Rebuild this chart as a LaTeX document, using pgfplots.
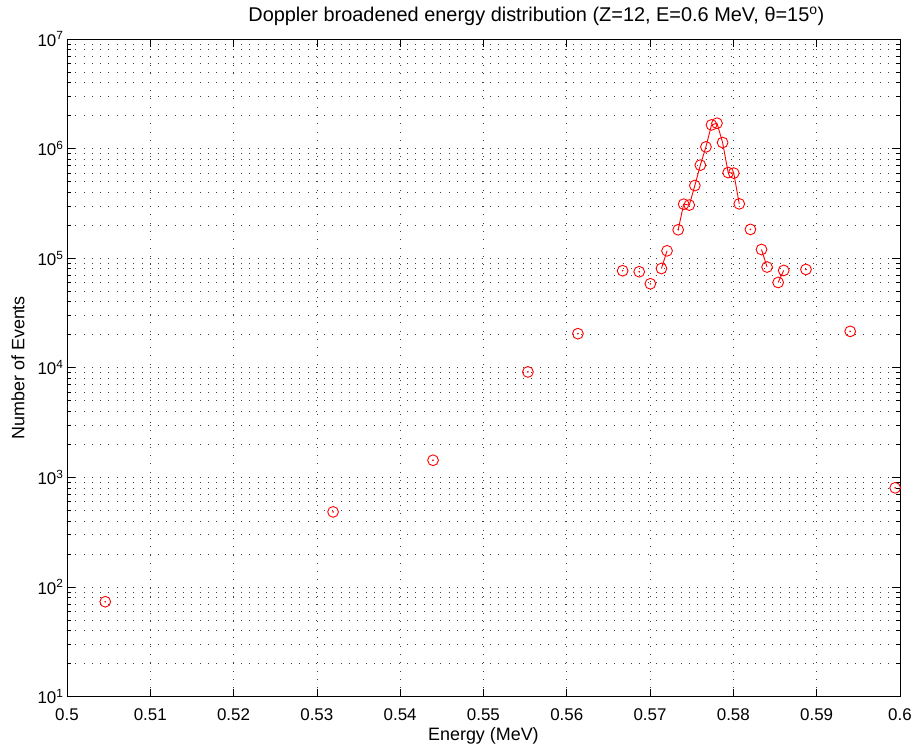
\documentclass[border=0pt]{standalone}
\usepackage{pgfplots}
\pgfplotsset{compat=1.18}
\usepackage{fontspec}
\setmainfont{Liberation Sans}
\begin{document}
\begin{tikzpicture}
\begin{axis}[
  scale only axis, width=833.5bp, height=658bp,
  xmin=0.5, xmax=0.6, ymode=log, ymin=10, ymax=1e7,
  xtick={0.5,0.51,0.52,0.53,0.54,0.55,0.56,0.57,0.58,0.59,0.6},
  xticklabels={0.5,0.51,0.52,0.53,0.54,0.55,0.56,0.57,0.58,0.59,0.6},
  ytick={1e1,1e2,1e3,1e4,1e5,1e6,1e7},
  yticklabels={10\textsuperscript{1},10\textsuperscript{2},10\textsuperscript{3},10\textsuperscript{4},10\textsuperscript{5},10\textsuperscript{6},10\textsuperscript{7}},
  tick align=inside, tick pos=both,
  major tick length=8bp, minor tick length=4bp,
  tick style={black, line width=0.6bp},
  axis line style={black, line width=0.8bp},
  grid=both,
  major grid style={black!75, line width=0.6bp, dash pattern=on 1bp off 7.3bp},
  minor grid style={black!75, line width=0.6bp, dash pattern=on 1bp off 7.3bp},
  ticklabel style={font=\fontsize{17}{20}\selectfont},
  xticklabel style={anchor=base, yshift=-24bp},
  label style={font=\fontsize{18}{21}\selectfont},
  xlabel={Energy (MeV)},
  xlabel style={at={(axis description cs:0.5,0)}, anchor=base, yshift=-44bp},
  ylabel={Number of Events},
  ylabel style={at={(axis description cs:-0.0588,0.5)}, anchor=center},
  title={Doppler broadened energy distribution (Z=12, E=0.6 MeV, θ=15\textsuperscript{o})},
  title style={font=\fontsize{20}{23}\selectfont, at={(axis description cs:0.2136,1)}, anchor=base west, yshift=11bp},
  unbounded coords=jump,
  clip=false,
]
\addplot[red, line width=0.9bp, mark=o, mark size=5.4bp, mark options={solid, line width=0.9bp}] table[row sep=\\] {
x y \\
0.50460 73.3 \\
nan nan \\
0.53195 484 \\
nan nan \\
0.54395 1432 \\
nan nan \\
0.55534 9160 \\
nan nan \\
0.56134 20460 \\
nan nan \\
0.56671 76800 \\
nan nan \\
0.56870 75200 \\
nan nan \\
0.57004 58400 \\
nan nan \\
0.57137 80500 \\
0.57204 116700 \\
nan nan \\
0.57338 181500 \\
0.57404 311000 \\
0.57471 305000 \\
0.57538 460000 \\
0.57604 706000 \\
0.57671 1036000 \\
0.57738 1644000 \\
0.57804 1704000 \\
0.57871 1135000 \\
0.57938 604000 \\
0.58005 597000 \\
0.58071 313000 \\
nan nan \\
0.58205 183000 \\
nan nan \\
0.58338 120000 \\
0.58405 83000 \\
nan nan \\
0.58538 60000 \\
0.58605 77300 \\
nan nan \\
0.58872 78900 \\
nan nan \\
0.59403 21480 \\
nan nan \\
0.59943 802 \\
};
\addplot[red, only marks, mark=*, mark size=0.6bp] table[row sep=\\] {
x y \\
0.50460 73.3 \\
0.53195 484 \\
0.54395 1432 \\
0.55534 9160 \\
0.56134 20460 \\
0.56671 76800 \\
0.56870 75200 \\
0.57004 58400 \\
0.57338 181500 \\
0.58205 183000 \\
0.58872 78900 \\
0.59403 21480 \\
0.59943 802 \\
};
\end{axis}
\path (current axis.south west) ++(-67bp,-50bp) rectangle ++(915bp,747bp);
\end{tikzpicture}
\end{document}
